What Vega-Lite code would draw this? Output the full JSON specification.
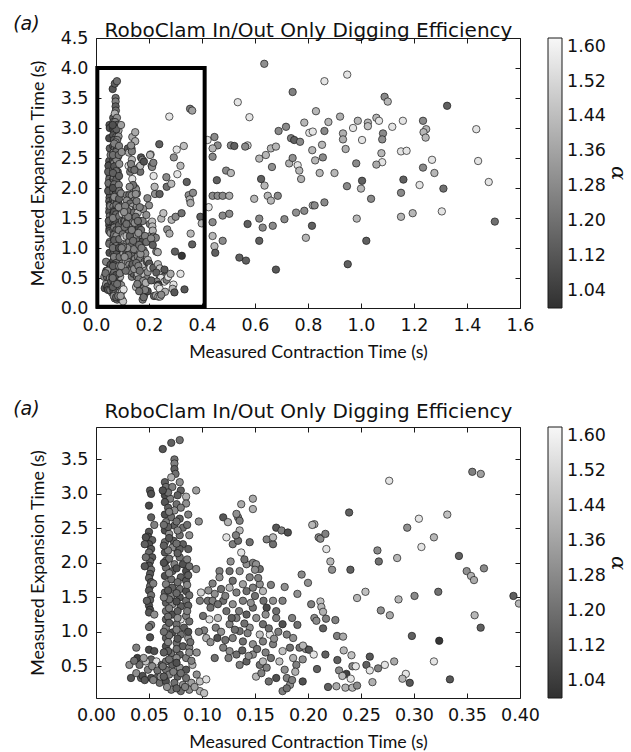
{
"$schema": "https://vega.github.io/schema/vega-lite/v6.json",
"padding": {"left": 13, "top": 14, "right": 1, "bottom": 3},
"spacing": 38,
"resolve": {"scale": {"color": "independent"}},
"config": {
  "view": {"stroke": "#1a1a1a", "strokeWidth": 1},
  "axis": {"domain": false, "grid": false, "tickColor": "#1a1a1a", "tickSize": -5, "tickWidth": 1, "labelPadding": 13, "labelFont": "DejaVu Sans", "labelFontSize": 17.5, "labelColor": "#111", "titleFont": "Lato", "titleFontSize": 17.8, "titleFontWeight": "normal", "titleColor": "#111", "labelFlush": false, "labelOverlap": false, "titlePadding": 10},
  "axisY": {"labelPadding": 13, "titlePadding": 13}
},
"datasets": {
"box": [{"x": 0.005, "x2": 0.41, "y": 0.02, "y2": 4.0}],
"pts": [
{"x":0.051,"y":3.05,"a":1.12},{"x":0.052,"y":3.0,"a":1.1},{"x":0.05,"y":2.83,"a":1.08},{"x":0.052,"y":2.66,"a":1.15},{"x":0.05,"y":2.45,"a":1.12},{"x":0.049,"y":2.38,"a":1.1},{"x":0.053,"y":2.33,"a":1.15},{"x":0.05,"y":2.27,"a":1.1},{"x":0.052,"y":2.2,"a":1.12},{"x":0.05,"y":2.15,"a":1.18},{"x":0.053,"y":2.08,"a":1.12},{"x":0.051,"y":2.02,"a":1.15},{"x":0.05,"y":1.96,"a":1.1},{"x":0.052,"y":1.9,"a":1.2},{"x":0.051,"y":1.84,"a":1.12},{"x":0.05,"y":1.78,"a":1.15},{"x":0.052,"y":1.72,"a":1.1},{"x":0.051,"y":1.66,"a":1.18},{"x":0.05,"y":1.6,"a":1.12},{"x":0.052,"y":1.53,"a":1.2},{"x":0.051,"y":1.46,"a":1.15},{"x":0.05,"y":1.38,"a":1.1},{"x":0.051,"y":1.32,"a":1.08},{"x":0.05,"y":1.28,"a":1.12},{"x":0.052,"y":1.1,"a":1.25},{"x":0.05,"y":1.07,"a":1.2},{"x":0.051,"y":0.92,"a":1.1},{"x":0.05,"y":0.74,"a":1.08},{"x":0.052,"y":0.6,"a":1.15},{"x":0.047,"y":2.37,"a":1.1},{"x":0.046,"y":2.27,"a":1.15},{"x":0.047,"y":2.08,"a":1.2},{"x":0.046,"y":1.95,"a":1.12},{"x":0.048,"y":1.45,"a":1.15},{"x":0.055,"y":2.55,"a":1.25},{"x":0.054,"y":1.7,"a":1.25},{"x":0.055,"y":1.25,"a":1.3},
{"x":0.0315,"y":0.52,"a":1.3},{"x":0.033,"y":0.33,"a":1.12},{"x":0.038,"y":0.77,"a":1.25},{"x":0.039,"y":0.62,"a":1.05},{"x":0.041,"y":0.52,"a":1.2},{"x":0.0425,"y":0.33,"a":1.15},{"x":0.047,"y":0.57,"a":1.45},{"x":0.049,"y":0.45,"a":1.25},{"x":0.052,"y":0.33,"a":1.1},{"x":0.057,"y":0.57,"a":1.55},{"x":0.057,"y":0.33,"a":1.15},{"x":0.055,"y":0.72,"a":1.1},{"x":0.06,"y":0.26,"a":1.2},{"x":0.038,"y":0.4,"a":1.3},{"x":0.044,"y":0.36,"a":1.1},{"x":0.045,"y":0.62,"a":1.35},{"x":0.036,"y":0.58,"a":1.2},{"x":0.053,"y":0.5,"a":1.28},{"x":0.058,"y":0.44,"a":1.2},{"x":0.046,"y":0.3,"a":1.12},{"x":0.054,"y":0.3,"a":1.25},{"x":0.061,"y":0.35,"a":1.3},{"x":0.062,"y":0.52,"a":1.15},
{"x":0.063,"y":3.65,"a":1.12},{"x":0.071,"y":3.74,"a":1.15},{"x":0.079,"y":3.78,"a":1.2},{"x":0.074,"y":3.5,"a":1.2},{"x":0.074,"y":3.44,"a":1.25},{"x":0.074,"y":3.36,"a":1.15},{"x":0.075,"y":3.29,"a":1.2},{"x":0.065,"y":3.17,"a":1.15},{"x":0.071,"y":3.24,"a":1.4},{"x":0.079,"y":3.17,"a":1.3},{"x":0.066,"y":3.1,"a":1.2},{"x":0.072,"y":3.1,"a":1.25},{"x":0.08,"y":3.05,"a":1.15},{"x":0.065,"y":2.98,"a":1.08},{"x":0.085,"y":2.96,"a":1.4},{"x":0.07,"y":2.93,"a":1.25},{"x":0.065,"y":2.88,"a":1.12},{"x":0.076,"y":2.85,"a":1.2},{"x":0.085,"y":2.86,"a":1.3},{"x":0.068,"y":2.8,"a":1.15},{"x":0.08,"y":2.8,"a":1.25},{"x":0.074,"y":2.76,"a":1.3},{"x":0.065,"y":2.7,"a":1.1},{"x":0.071,"y":2.66,"a":1.2},{"x":0.079,"y":2.64,"a":1.15},{"x":0.066,"y":2.59,"a":1.25},{"x":0.074,"y":2.54,"a":1.15},{"x":0.082,"y":2.51,"a":1.2},{"x":0.065,"y":2.47,"a":1.1},{"x":0.069,"y":2.42,"a":1.3},{"x":0.079,"y":2.4,"a":1.2},{"x":0.073,"y":2.32,"a":1.15},{"x":0.065,"y":2.3,"a":1.2},{"x":0.082,"y":2.27,"a":1.15},{"x":0.072,"y":2.22,"a":1.28},{"x":0.079,"y":2.2,"a":1.15},{"x":0.065,"y":2.15,"a":1.12},{"x":0.071,"y":2.13,"a":1.56},{"x":0.079,"y":2.08,"a":1.2},{"x":0.066,"y":2.03,"a":1.15},{"x":0.074,"y":1.98,"a":1.25},{"x":0.082,"y":1.98,"a":1.1},{"x":0.085,"y":1.88,"a":1.08},{"x":0.066,"y":1.93,"a":1.2},{"x":0.072,"y":1.88,"a":1.15},{"x":0.065,"y":1.81,"a":1.1},{"x":0.071,"y":1.76,"a":1.2},{"x":0.08,"y":1.79,"a":1.15},{"x":0.085,"y":1.74,"a":1.12},{"x":0.066,"y":1.69,"a":1.25},{"x":0.072,"y":1.64,"a":1.15},{"x":0.079,"y":1.62,"a":1.2},{"x":0.085,"y":1.59,"a":1.1},{"x":0.065,"y":1.57,"a":1.15},{"x":0.071,"y":1.52,"a":1.25},{"x":0.079,"y":1.5,"a":1.12},{"x":0.085,"y":1.45,"a":1.2},{"x":0.066,"y":1.42,"a":1.15},{"x":0.072,"y":1.4,"a":1.3},{"x":0.08,"y":1.37,"a":1.15},{"x":0.066,"y":1.3,"a":1.2},{"x":0.072,"y":1.25,"a":1.1},{"x":0.08,"y":1.18,"a":1.56},{"x":0.085,"y":1.23,"a":1.25},{"x":0.066,"y":1.18,"a":1.15},{"x":0.076,"y":1.11,"a":1.2},{"x":0.066,"y":1.06,"a":1.25},{"x":0.083,"y":1.06,"a":1.15},{"x":0.072,"y":0.99,"a":1.1},{"x":0.08,"y":0.96,"a":1.2},{"x":0.066,"y":0.91,"a":1.15},{"x":0.087,"y":0.91,"a":1.3},{"x":0.076,"y":0.84,"a":1.2},{"x":0.066,"y":0.79,"a":1.1},{"x":0.082,"y":0.79,"a":1.15},{"x":0.088,"y":0.77,"a":1.25},{"x":0.071,"y":0.69,"a":1.2},{"x":0.079,"y":0.67,"a":1.15},{"x":0.066,"y":0.57,"a":1.2},{"x":0.085,"y":0.62,"a":1.25},{"x":0.072,"y":0.52,"a":1.15},{"x":0.079,"y":0.48,"a":1.3},{"x":0.066,"y":0.45,"a":1.2},{"x":0.085,"y":0.45,"a":1.12},{"x":0.091,"y":0.52,"a":1.4},{"x":0.069,"y":0.38,"a":1.25},{"x":0.077,"y":0.35,"a":1.15},{"x":0.085,"y":0.33,"a":1.2},{"x":0.095,"y":0.38,"a":1.3},{"x":0.066,"y":0.28,"a":1.1},{"x":0.074,"y":0.26,"a":1.2},{"x":0.082,"y":0.23,"a":1.3},{"x":0.09,"y":0.26,"a":1.35},{"x":0.098,"y":0.28,"a":1.45},{"x":0.071,"y":0.16,"a":1.25},{"x":0.08,"y":0.14,"a":1.2},{"x":0.088,"y":0.16,"a":1.3},{"x":0.098,"y":0.14,"a":1.4},{"x":0.102,"y":0.11,"a":1.45},{"x":0.104,"y":0.31,"a":1.55},
{"x":0.068,"y":3.02,"a":1.2},{"x":0.077,"y":2.98,"a":1.15},{"x":0.069,"y":2.74,"a":1.25},{"x":0.076,"y":2.6,"a":1.2},{"x":0.068,"y":2.52,"a":1.15},{"x":0.077,"y":2.47,"a":1.28},{"x":0.069,"y":2.36,"a":1.12},{"x":0.076,"y":2.28,"a":1.2},{"x":0.068,"y":2.18,"a":1.25},{"x":0.077,"y":2.14,"a":1.15},{"x":0.069,"y":2.06,"a":1.2},{"x":0.076,"y":1.92,"a":1.1},{"x":0.069,"y":1.85,"a":1.28},{"x":0.077,"y":1.72,"a":1.2},{"x":0.068,"y":1.6,"a":1.12},{"x":0.076,"y":1.56,"a":1.18},{"x":0.069,"y":1.47,"a":1.2},{"x":0.076,"y":1.44,"a":1.1},{"x":0.069,"y":1.34,"a":1.25},{"x":0.077,"y":1.3,"a":1.15},{"x":0.068,"y":1.22,"a":1.2},{"x":0.077,"y":1.2,"a":1.3},{"x":0.069,"y":1.13,"a":1.15},{"x":0.076,"y":1.03,"a":1.25},{"x":0.069,"y":0.95,"a":1.2},{"x":0.077,"y":0.9,"a":1.12},{"x":0.068,"y":0.85,"a":1.25},{"x":0.076,"y":0.75,"a":1.2},{"x":0.068,"y":0.72,"a":1.15},{"x":0.076,"y":0.62,"a":1.28},{"x":0.069,"y":0.6,"a":1.2},{"x":0.076,"y":0.55,"a":1.1},{"x":0.064,"y":0.35,"a":1.15},{"x":0.073,"y":0.42,"a":1.25},{"x":0.08,"y":0.4,"a":1.2},{"x":0.067,"y":0.2,"a":1.3},{"x":0.076,"y":0.18,"a":1.15},{"x":0.084,"y":0.2,"a":1.25},{"x":0.093,"y":0.2,"a":1.35},{"x":0.063,"y":0.5,"a":1.2},{"x":0.064,"y":0.7,"a":1.15},{"x":0.064,"y":1.0,"a":1.2},{"x":0.064,"y":1.5,"a":1.25},{"x":0.064,"y":2.0,"a":1.1},{"x":0.064,"y":2.55,"a":1.2},{"x":0.064,"y":2.25,"a":1.15},{"x":0.063,"y":3.05,"a":1.1},
{"x":0.087,"y":2.7,"a":1.25},{"x":0.086,"y":2.55,"a":1.2},{"x":0.088,"y":2.4,"a":1.3},{"x":0.087,"y":2.2,"a":1.15},{"x":0.086,"y":2.05,"a":1.25},{"x":0.088,"y":1.95,"a":1.2},{"x":0.087,"y":1.82,"a":1.15},{"x":0.086,"y":1.68,"a":1.28},{"x":0.088,"y":1.53,"a":1.2},{"x":0.087,"y":1.38,"a":1.15},{"x":0.086,"y":1.3,"a":1.25},{"x":0.088,"y":1.15,"a":1.2},{"x":0.087,"y":1.0,"a":1.1},{"x":0.089,"y":0.85,"a":1.2},{"x":0.088,"y":0.7,"a":1.3},{"x":0.09,"y":0.58,"a":1.25},
{"x":0.097,"y":2.6,"a":1.3},{"x":0.0945,"y":3.05,"a":1.35},{"x":0.0945,"y":1.91,"a":1.28},{"x":0.099,"y":1.57,"a":1.5},{"x":0.098,"y":1.45,"a":1.25},{"x":0.101,"y":1.23,"a":1.2},{"x":0.1055,"y":1.45,"a":1.2},{"x":0.11,"y":1.45,"a":1.25},{"x":0.107,"y":1.18,"a":1.55},{"x":0.104,"y":0.91,"a":1.4},{"x":0.115,"y":1.2,"a":1.42},{"x":0.113,"y":1.06,"a":1.25},{"x":0.1145,"y":0.91,"a":1.1},{"x":0.12,"y":2.66,"a":1.12},{"x":0.1245,"y":2.59,"a":1.4},{"x":0.129,"y":2.27,"a":1.25},{"x":0.123,"y":2.37,"a":1.55},{"x":0.134,"y":2.32,"a":1.2},{"x":0.134,"y":2.66,"a":1.25},{"x":0.137,"y":2.85,"a":1.38},{"x":0.1355,"y":2.47,"a":1.42},{"x":0.137,"y":2.15,"a":1.55},{"x":0.148,"y":2.93,"a":1.38},{"x":0.148,"y":2.78,"a":1.4},{"x":0.142,"y":1.98,"a":1.3},{"x":0.148,"y":2.0,"a":1.25},{"x":0.1545,"y":1.91,"a":1.2},{"x":0.151,"y":1.98,"a":1.3},{"x":0.1165,"y":1.88,"a":1.25},{"x":0.126,"y":1.88,"a":1.2},{"x":0.1355,"y":1.88,"a":1.3},{"x":0.145,"y":1.79,"a":1.25},{"x":0.1165,"y":1.79,"a":1.3},{"x":0.129,"y":1.74,"a":1.2},{"x":0.1386,"y":1.69,"a":1.35},{"x":0.148,"y":1.64,"a":1.25},{"x":0.126,"y":1.64,"a":1.42},{"x":0.1325,"y":1.57,"a":1.25},{"x":0.142,"y":1.59,"a":1.2},{"x":0.1545,"y":1.69,"a":1.3},{"x":0.1575,"y":1.59,"a":1.42},{"x":0.12,"y":1.45,"a":1.2},{"x":0.129,"y":1.4,"a":1.3},{"x":0.1386,"y":1.45,"a":1.25},{"x":0.148,"y":1.35,"a":1.2},{"x":0.161,"y":1.35,"a":1.08},{"x":0.167,"y":1.45,"a":1.3},{"x":0.17,"y":1.2,"a":1.25},{"x":0.123,"y":1.3,"a":1.2},{"x":0.1325,"y":1.2,"a":1.25},{"x":0.142,"y":1.25,"a":1.15},{"x":0.1512,"y":1.2,"a":1.3},{"x":0.1575,"y":1.11,"a":1.2},{"x":0.126,"y":1.11,"a":1.25},{"x":0.1355,"y":1.01,"a":1.2},{"x":0.145,"y":1.06,"a":1.3},{"x":0.1545,"y":0.96,"a":1.45},{"x":0.129,"y":0.91,"a":1.25},{"x":0.1386,"y":0.86,"a":1.2},{"x":0.148,"y":0.82,"a":1.3},{"x":0.1575,"y":0.86,"a":1.25},{"x":0.164,"y":0.96,"a":1.56},{"x":0.167,"y":0.82,"a":1.25},{"x":0.176,"y":1.11,"a":1.1},{"x":0.18,"y":0.96,"a":1.25},{"x":0.186,"y":0.91,"a":1.3},{"x":0.183,"y":0.77,"a":1.2},{"x":0.176,"y":0.72,"a":1.45},{"x":0.186,"y":0.62,"a":1.4},{"x":0.189,"y":0.52,"a":1.25},{"x":0.173,"y":0.57,"a":1.45},{"x":0.192,"y":0.77,"a":1.2},{"x":0.12,"y":0.77,"a":1.25},{"x":0.126,"y":0.72,"a":1.3},{"x":0.1325,"y":0.67,"a":1.2},{"x":0.1355,"y":0.52,"a":1.25},{"x":0.142,"y":0.57,"a":1.15},{"x":0.148,"y":0.67,"a":1.3},{"x":0.1545,"y":0.52,"a":1.2},{"x":0.1575,"y":0.57,"a":1.42},{"x":0.161,"y":0.48,"a":1.25},{"x":0.151,"y":0.35,"a":1.42},{"x":0.17,"y":0.33,"a":1.1},{"x":0.18,"y":0.33,"a":1.25},{"x":0.183,"y":0.23,"a":1.3},{"x":0.176,"y":0.14,"a":1.25},{"x":0.18,"y":0.18,"a":1.2},{"x":0.195,"y":0.28,"a":1.1},{"x":0.17,"y":1.3,"a":1.2},{"x":0.176,"y":1.45,"a":1.25},{"x":0.17,"y":2.51,"a":1.12},{"x":0.161,"y":2.34,"a":1.25},{"x":0.167,"y":2.27,"a":1.2},{"x":0.167,"y":2.37,"a":1.42},{"x":0.175,"y":2.47,"a":1.25},{"x":0.181,"y":2.44,"a":1.1},{"x":0.1355,"y":2.61,"a":1.25},{"x":0.1325,"y":2.71,"a":1.3},{"x":0.194,"y":1.83,"a":1.28},{"x":0.2,"y":1.71,"a":1.3},{"x":0.203,"y":1.4,"a":1.25},{"x":0.206,"y":1.2,"a":1.3},{"x":0.206,"y":2.56,"a":1.4},{"x":0.21,"y":2.37,"a":1.3},
{"x":0.108,"y":1.35,"a":1.2},{"x":0.112,"y":1.55,"a":1.3},{"x":0.118,"y":1.62,"a":1.2},{"x":0.122,"y":1.52,"a":1.25},{"x":0.128,"y":1.2,"a":1.15},{"x":0.131,"y":1.03,"a":1.2},{"x":0.135,"y":1.3,"a":1.25},{"x":0.14,"y":1.12,"a":1.2},{"x":0.143,"y":0.98,"a":1.25},{"x":0.146,"y":1.42,"a":1.3},{"x":0.15,"y":1.52,"a":1.2},{"x":0.153,"y":1.78,"a":1.25},{"x":0.158,"y":1.45,"a":1.2},{"x":0.16,"y":1.25,"a":1.3},{"x":0.163,"y":1.05,"a":1.2},{"x":0.118,"y":1.0,"a":1.3},{"x":0.122,"y":0.88,"a":1.2},{"x":0.125,"y":0.62,"a":1.25},{"x":0.138,"y":0.73,"a":1.15},{"x":0.144,"y":0.65,"a":1.3},{"x":0.152,"y":0.75,"a":1.2},{"x":0.16,"y":0.7,"a":1.25},{"x":0.165,"y":0.62,"a":1.2},{"x":0.168,"y":0.9,"a":1.3},{"x":0.172,"y":1.0,"a":1.25},{"x":0.14,"y":2.05,"a":1.2},{"x":0.132,"y":2.4,"a":1.25},{"x":0.127,"y":2.02,"a":1.3},{"x":0.145,"y":2.3,"a":1.2},{"x":0.15,"y":1.9,"a":1.3},{"x":0.11,"y":1.7,"a":1.25},{"x":0.106,"y":1.6,"a":1.3},{"x":0.115,"y":1.4,"a":1.2},{"x":0.102,"y":1.02,"a":1.25},{"x":0.108,"y":0.85,"a":1.3},{"x":0.112,"y":0.62,"a":1.2},{"x":0.095,"y":0.7,"a":1.3},{"x":0.097,"y":1.0,"a":1.25},{"x":0.178,"y":0.45,"a":1.3},{"x":0.185,"y":0.3,"a":1.25},{"x":0.188,"y":0.42,"a":1.4},{"x":0.195,"y":0.6,"a":1.3},{"x":0.198,"y":0.75,"a":1.3},{"x":0.156,"y":0.4,"a":1.25},{"x":0.163,"y":0.28,"a":1.2},{"x":0.178,"y":1.65,"a":1.3},{"x":0.185,"y":1.2,"a":1.25},{"x":0.19,"y":1.1,"a":1.2},{"x":0.19,"y":1.55,"a":1.3},{"x":0.165,"y":1.68,"a":1.25},
{"x":0.355,"y":3.32,"a":1.25},{"x":0.363,"y":3.29,"a":1.35},{"x":0.2766,"y":3.19,"a":1.56},{"x":0.2388,"y":2.73,"a":1.15},{"x":0.3046,"y":2.64,"a":1.56},{"x":0.3314,"y":2.7,"a":1.45},{"x":0.2936,"y":2.51,"a":1.3},{"x":0.204,"y":2.55,"a":1.42},{"x":0.2117,"y":2.35,"a":1.28},{"x":0.2164,"y":2.42,"a":1.25},{"x":0.2173,"y":2.2,"a":1.56},{"x":0.307,"y":2.23,"a":1.56},{"x":0.3188,"y":2.37,"a":1.42},{"x":0.2655,"y":2.18,"a":1.28},{"x":0.2668,"y":2.02,"a":1.2},{"x":0.2211,"y":2.02,"a":1.42},{"x":0.2227,"y":1.9,"a":1.3},{"x":0.24,"y":1.9,"a":1.15},{"x":0.2841,"y":2.07,"a":1.42},{"x":0.3424,"y":2.1,"a":1.15},{"x":0.3497,"y":1.88,"a":1.3},{"x":0.3538,"y":1.81,"a":1.4},{"x":0.3566,"y":1.75,"a":1.38},{"x":0.366,"y":1.92,"a":1.28},{"x":0.2463,"y":1.49,"a":1.42},{"x":0.2542,"y":1.58,"a":1.45},{"x":0.2854,"y":1.47,"a":1.42},{"x":0.3005,"y":1.52,"a":1.28},{"x":0.3229,"y":1.58,"a":1.2},{"x":0.3938,"y":1.52,"a":1.15},{"x":0.399,"y":1.41,"a":1.42},{"x":0.2117,"y":1.44,"a":1.45},{"x":0.2126,"y":1.36,"a":1.42},{"x":0.2142,"y":1.29,"a":1.4},{"x":0.217,"y":1.19,"a":1.25},{"x":0.2258,"y":1.17,"a":1.25},{"x":0.2079,"y":1.16,"a":1.28},{"x":0.2142,"y":1.05,"a":1.15},{"x":0.2687,"y":1.31,"a":1.3},{"x":0.2772,"y":1.24,"a":1.38},{"x":0.298,"y":0.94,"a":1.15},{"x":0.3238,"y":0.87,"a":1.02},{"x":0.3572,"y":1.24,"a":1.42},{"x":0.3629,"y":1.06,"a":1.15},{"x":0.2274,"y":0.94,"a":1.25},{"x":0.2331,"y":0.93,"a":1.38},{"x":0.1953,"y":0.8,"a":1.42},{"x":0.2009,"y":0.74,"a":1.12},{"x":0.2054,"y":0.67,"a":1.56},{"x":0.2164,"y":0.67,"a":1.15},{"x":0.2337,"y":0.73,"a":1.42},{"x":0.241,"y":0.66,"a":1.45},{"x":0.2583,"y":0.64,"a":1.12},{"x":0.2277,"y":0.59,"a":1.15},{"x":0.2551,"y":0.52,"a":1.15},{"x":0.2419,"y":0.5,"a":1.28},{"x":0.2451,"y":0.5,"a":1.56},{"x":0.2583,"y":0.44,"a":1.56},{"x":0.2661,"y":0.47,"a":1.25},{"x":0.2725,"y":0.52,"a":1.56},{"x":0.2813,"y":0.57,"a":1.38},{"x":0.2293,"y":0.44,"a":1.28},{"x":0.2085,"y":0.46,"a":1.15},{"x":0.2362,"y":0.39,"a":1.05},{"x":0.2324,"y":0.36,"a":1.42},{"x":0.2403,"y":0.32,"a":1.56},{"x":0.2923,"y":0.39,"a":1.56},{"x":0.2891,"y":0.32,"a":1.42},{"x":0.296,"y":0.26,"a":1.12},{"x":0.2608,"y":0.27,"a":1.4},{"x":0.2189,"y":0.2,"a":1.15},{"x":0.2268,"y":0.21,"a":1.38},{"x":0.2353,"y":0.19,"a":1.4},{"x":0.2419,"y":0.19,"a":1.42},{"x":0.2463,"y":0.22,"a":1.28},{"x":0.3188,"y":0.57,"a":1.56},{"x":0.3339,"y":0.31,"a":1.12},
{"x":0.635,"y":4.07,"a":1.3},{"x":0.535,"y":3.43,"a":1.56},{"x":0.579,"y":3.18,"a":1.56},{"x":0.742,"y":3.6,"a":1.25},{"x":0.83,"y":3.28,"a":1.42},{"x":0.689,"y":2.95,"a":1.28},{"x":0.717,"y":3.02,"a":1.28},{"x":0.786,"y":3.09,"a":1.42},{"x":0.805,"y":2.92,"a":1.56},{"x":0.818,"y":2.94,"a":1.56},{"x":0.421,"y":2.8,"a":1.56},{"x":0.447,"y":2.85,"a":1.28},{"x":0.459,"y":2.71,"a":1.28},{"x":0.44,"y":2.66,"a":1.42},{"x":0.509,"y":2.71,"a":1.28},{"x":0.522,"y":2.7,"a":1.15},{"x":0.572,"y":2.71,"a":1.5},{"x":0.563,"y":2.69,"a":1.28},{"x":0.44,"y":2.52,"a":1.28},{"x":0.616,"y":2.49,"a":1.42},{"x":0.641,"y":2.55,"a":1.42},{"x":0.66,"y":2.66,"a":1.42},{"x":0.679,"y":2.69,"a":1.42},{"x":0.736,"y":2.83,"a":1.25},{"x":0.748,"y":2.8,"a":1.15},{"x":0.729,"y":2.41,"a":1.4},{"x":0.761,"y":2.38,"a":1.56},{"x":0.742,"y":2.5,"a":1.3},{"x":0.767,"y":2.29,"a":1.42},{"x":0.774,"y":2.15,"a":1.4},{"x":0.664,"y":2.35,"a":1.3},{"x":0.623,"y":2.15,"a":1.15},{"x":0.636,"y":2.04,"a":1.42},{"x":0.491,"y":2.29,"a":1.28},{"x":0.509,"y":2.25,"a":1.42},{"x":0.456,"y":2.13,"a":1.15},{"x":0.44,"y":1.87,"a":1.28},{"x":0.459,"y":1.87,"a":1.28},{"x":0.478,"y":1.87,"a":1.28},{"x":0.503,"y":1.87,"a":1.38},{"x":0.648,"y":1.87,"a":1.42},{"x":0.686,"y":1.87,"a":1.28},{"x":0.66,"y":1.79,"a":1.42},{"x":0.597,"y":1.82,"a":1.42},{"x":0.425,"y":1.68,"a":1.56},{"x":0.478,"y":1.54,"a":1.28},{"x":0.503,"y":1.57,"a":1.28},{"x":0.44,"y":1.43,"a":1.28},{"x":0.572,"y":1.4,"a":1.15},{"x":0.616,"y":1.49,"a":1.28},{"x":0.629,"y":1.34,"a":1.28},{"x":0.667,"y":1.37,"a":1.28},{"x":0.711,"y":1.48,"a":1.28},{"x":0.755,"y":1.59,"a":1.3},{"x":0.786,"y":1.62,"a":1.28},{"x":0.818,"y":1.71,"a":1.42},{"x":0.815,"y":1.37,"a":1.15},{"x":0.792,"y":1.17,"a":1.42},{"x":0.616,"y":1.12,"a":1.15},{"x":0.44,"y":1.2,"a":1.42},{"x":0.447,"y":1.03,"a":1.42},{"x":0.478,"y":1.12,"a":1.28},{"x":0.45,"y":0.92,"a":1.15},{"x":0.541,"y":0.84,"a":1.15},{"x":0.566,"y":0.79,"a":1.15},{"x":0.679,"y":0.64,"a":1.12},
{"x":0.862,"y":3.78,"a":1.56},{"x":0.948,"y":3.89,"a":1.56},{"x":1.089,"y":3.52,"a":1.28},{"x":1.101,"y":3.44,"a":1.42},{"x":1.325,"y":3.37,"a":1.15},{"x":0.877,"y":3.1,"a":1.42},{"x":0.921,"y":3.19,"a":1.4},{"x":0.988,"y":3.12,"a":1.42},{"x":1.026,"y":3.09,"a":1.42},{"x":1.058,"y":3.17,"a":1.42},{"x":1.068,"y":3.12,"a":1.56},{"x":0.97,"y":3.0,"a":1.56},{"x":1.026,"y":3.03,"a":1.45},{"x":1.118,"y":3.02,"a":1.56},{"x":1.158,"y":3.12,"a":1.56},{"x":1.234,"y":3.12,"a":1.28},{"x":1.246,"y":2.98,"a":1.42},{"x":1.236,"y":2.93,"a":1.42},{"x":1.244,"y":2.84,"a":1.42},{"x":1.435,"y":2.98,"a":1.56},{"x":0.862,"y":2.95,"a":1.28},{"x":0.932,"y":2.91,"a":1.4},{"x":0.932,"y":2.81,"a":1.4},{"x":1.004,"y":2.8,"a":1.56},{"x":1.083,"y":2.91,"a":1.28},{"x":1.08,"y":2.81,"a":1.3},{"x":0.77,"y":2.77,"a":1.28},{"x":0.853,"y":2.72,"a":1.42},{"x":0.816,"y":2.63,"a":1.42},{"x":0.856,"y":2.51,"a":1.28},{"x":0.827,"y":2.46,"a":1.42},{"x":0.942,"y":2.65,"a":1.4},{"x":1.077,"y":2.58,"a":1.42},{"x":1.08,"y":2.43,"a":1.56},{"x":1.058,"y":2.39,"a":1.38},{"x":1.151,"y":2.61,"a":1.56},{"x":1.172,"y":2.62,"a":1.56},{"x":0.982,"y":2.41,"a":1.28},{"x":1.268,"y":2.47,"a":1.56},{"x":1.442,"y":2.45,"a":1.56},{"x":0.844,"y":2.25,"a":1.42},{"x":0.9,"y":2.25,"a":1.42},{"x":1.234,"y":2.34,"a":1.28},{"x":1.277,"y":2.25,"a":1.42},{"x":0.947,"y":2.03,"a":1.28},{"x":1.004,"y":2.12,"a":1.15},{"x":1.0,"y":1.99,"a":1.42},{"x":1.16,"y":2.14,"a":1.15},{"x":1.151,"y":1.92,"a":1.28},{"x":1.221,"y":2.05,"a":1.56},{"x":1.311,"y":1.99,"a":1.2},{"x":1.482,"y":2.1,"a":1.56},{"x":1.038,"y":1.82,"a":1.28},{"x":0.825,"y":1.71,"a":1.28},{"x":0.862,"y":1.76,"a":1.28},{"x":0.984,"y":1.49,"a":1.42},{"x":1.151,"y":1.52,"a":1.42},{"x":1.195,"y":1.58,"a":1.42},{"x":1.305,"y":1.61,"a":1.56},{"x":1.505,"y":1.44,"a":1.2},{"x":1.02,"y":1.12,"a":1.15},{"x":0.95,"y":0.73,"a":1.15}
]
},
"vconcat": [
 {
  "title": {"text": "(a)", "anchor": "start", "frame": "bounds", "font": "DejaVu Sans", "fontSize": 19, "fontStyle": "italic", "fontWeight": "normal", "color": "#111", "baseline": "alphabetic", "offset": -28.5, "dx": -15.5},
  "resolve": {"scale": {"color": "independent"}},
  "vconcat": [
   {
    "width": 424, "height": 270,
    "layer": [
     {
      "data": {"name": "pts"},
      "mark": {"type": "circle", "size": 55, "opacity": 1, "stroke": "#1a1a1a", "strokeWidth": 0.7},
      "encoding": {
       "x": {"field": "x", "type": "quantitative", "scale": {"domain": [0, 1.6], "nice": false, "zero": false}, "axis": {"values": [0, 0.2, 0.4, 0.6, 0.8, 1.0, 1.2, 1.4, 1.6], "format": ".1f", "title": "Measured Contraction Time (s)"}},
       "y": {"field": "y", "type": "quantitative", "scale": {"domain": [0, 4.5], "nice": false, "zero": false}, "axis": {"values": [0, 0.5, 1.0, 1.5, 2.0, 2.5, 3.0, 3.5, 4.0, 4.5], "format": ".1f", "title": "Measured Expansion Time (s)"}},
       "color": {"field": "a", "type": "quantitative", "scale": {"domain": [1.0, 1.62], "range": ["#303030", "#f7f7f7"], "interpolate": "rgb"},
        "legend": {"type": "gradient", "values": [1.04, 1.12, 1.2, 1.28, 1.36, 1.44, 1.52, 1.6], "format": ".2f", "gradientLength": 270, "gradientThickness": 14, "gradientStrokeColor": "#1a1a1a", "gradientStrokeWidth": 1, "labelFont": "DejaVu Sans", "labelFontSize": 17.5, "labelColor": "#111", "labelOffset": 5, "labelOverlap": false, "title": "α", "titleOrient": "right", "titleAnchor": "middle", "titleFont": "DejaVu Serif", "titleFontStyle": "italic", "titleFontSize": 21, "titleFontWeight": "normal", "titleColor": "#111", "titlePadding": 2, "offset": 27, "padding": 0, "encode": {"title": {"update": {"angle": {"value": 0}, "align": {"value": "left"}, "baseline": {"value": "middle"}}}}}}
      }
     },
     {
      "data": {"name": "box"},
      "mark": {"type": "rect", "filled": false, "stroke": "#000", "strokeWidth": 4, "strokeJoin": "miter"},
      "encoding": {
       "x": {"field": "x", "type": "quantitative", "axis": null},
       "x2": {"field": "x2"},
       "y": {"field": "y", "type": "quantitative", "axis": null},
       "y2": {"field": "y2"}
      }
     },
     {
      "data": {"name": "pts"},
      "transform": [{"filter": "false"}],
      "mark": "point",
      "encoding": {
       "x": {"field": "x", "type": "quantitative", "axis": {"orient": "top", "labels": false, "labelPadding": 0, "minExtent": 0, "maxExtent": 0, "title": "RoboClam In/Out Only Digging Efficiency", "titleFont": "DejaVu Sans", "titleFontSize": 20, "titleFontWeight": "normal", "titleColor": "#111", "titleBaseline": "bottom", "titlePadding": -2.7, "values": [0, 0.2, 0.4, 0.6, 0.8, 1.0, 1.2, 1.4, 1.6]}},
       "y": {"field": "y", "type": "quantitative", "axis": {"orient": "right", "labels": false, "labelPadding": 0, "minExtent": 0, "maxExtent": 0, "title": null, "values": [0, 0.5, 1.0, 1.5, 2.0, 2.5, 3.0, 3.5, 4.0, 4.5]}}
      }
     }
    ],
    "resolve": {"axis": {"x": "independent", "y": "independent"}}
   }
  ]
 },
 {
  "title": {"text": "(a)", "anchor": "start", "frame": "bounds", "font": "DejaVu Sans", "fontSize": 19, "fontStyle": "italic", "fontWeight": "normal", "color": "#111", "baseline": "alphabetic", "offset": -33.3, "dx": -15.5},
  "resolve": {"scale": {"color": "independent"}},
  "vconcat": [
   {
    "width": 424, "height": 271,
    "layer": [
     {
      "data": {"name": "pts"},
      "transform": [{"filter": "datum.x <= 0.405"}],
      "mark": {"type": "circle", "size": 55, "opacity": 1, "stroke": "#1a1a1a", "strokeWidth": 0.7, "clip": true},
      "encoding": {
       "x": {"field": "x", "type": "quantitative", "scale": {"domain": [0, 0.4], "nice": false, "zero": false}, "axis": {"values": [0, 0.05, 0.1, 0.15, 0.2, 0.25, 0.3, 0.35, 0.4], "format": ".2f", "title": "Measured Contraction Time (s)"}},
       "y": {"field": "y", "type": "quantitative", "scale": {"domain": [0.04, 3.97], "nice": false, "zero": false}, "axis": {"values": [0.5, 1.0, 1.5, 2.0, 2.5, 3.0, 3.5], "format": ".1f", "title": "Measured Expansion Time (s)"}},
       "color": {"field": "a", "type": "quantitative", "scale": {"domain": [1.0, 1.62], "range": ["#303030", "#f7f7f7"], "interpolate": "rgb"},
        "legend": {"type": "gradient", "values": [1.04, 1.12, 1.2, 1.28, 1.36, 1.44, 1.52, 1.6], "format": ".2f", "gradientLength": 271, "gradientThickness": 14, "gradientStrokeColor": "#1a1a1a", "gradientStrokeWidth": 1, "labelFont": "DejaVu Sans", "labelFontSize": 17.5, "labelColor": "#111", "labelOffset": 5, "labelOverlap": false, "title": "α", "titleOrient": "right", "titleAnchor": "middle", "titleFont": "DejaVu Serif", "titleFontStyle": "italic", "titleFontSize": 21, "titleFontWeight": "normal", "titleColor": "#111", "titlePadding": 2, "offset": 27, "padding": 0, "encode": {"title": {"update": {"angle": {"value": 0}, "align": {"value": "left"}, "baseline": {"value": "middle"}}}}}}
      }
     },
     {
      "data": {"name": "pts"},
      "transform": [{"filter": "false"}],
      "mark": "point",
      "encoding": {
       "x": {"field": "x", "type": "quantitative", "axis": {"orient": "top", "labels": false, "labelPadding": 0, "minExtent": 0, "maxExtent": 0, "title": "RoboClam In/Out Only Digging Efficiency", "titleFont": "DejaVu Sans", "titleFontSize": 20, "titleFontWeight": "normal", "titleColor": "#111", "titleBaseline": "bottom", "titlePadding": 5.5, "values": [0, 0.05, 0.1, 0.15, 0.2, 0.25, 0.3, 0.35, 0.4]}},
       "y": {"field": "y", "type": "quantitative", "axis": {"orient": "right", "labels": false, "labelPadding": 0, "minExtent": 0, "maxExtent": 0, "title": null, "values": [0.5, 1.0, 1.5, 2.0, 2.5, 3.0, 3.5]}}
      }
     }
    ],
    "resolve": {"axis": {"x": "independent", "y": "independent"}}
   }
  ]
 }
]
}
